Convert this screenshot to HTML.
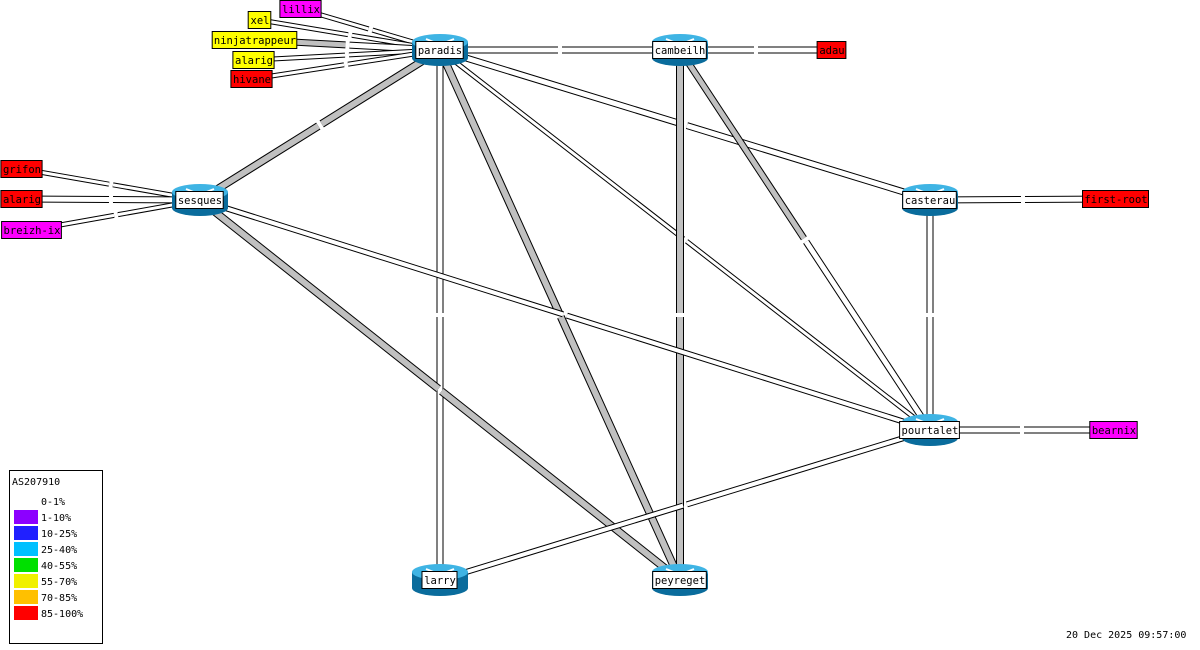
<!DOCTYPE html>
<html><head><meta charset="utf-8"><style>
html,body{margin:0;padding:0;background:#fff;width:1200px;height:650px;overflow:hidden}
svg text{font-family:"DejaVu Sans Mono","Liberation Mono",monospace;font-size:10.5px}
</style></head><body>
<svg id="s" width="1200" height="650" xmlns="http://www.w3.org/2000/svg">
<g id="links"></g>
<g id="nodes"></g>
<rect x="9.5" y="470.5" width="93" height="173" fill="#fff" stroke="#000"/>
<text x="12" y="485" style="font-size:10px">AS207910</text>
<text x="41" y="505" style="font-size:10px">0-1%</text>
<rect x="14" y="510" width="24" height="14" fill="#8c00ff"/><text x="41" y="521" style="font-size:10px">1-10%</text>
<rect x="14" y="526" width="24" height="14" fill="#2020ff"/><text x="41" y="537" style="font-size:10px">10-25%</text>
<rect x="14" y="542" width="24" height="14" fill="#00c0ff"/><text x="41" y="553" style="font-size:10px">25-40%</text>
<rect x="14" y="558" width="24" height="14" fill="#00e000"/><text x="41" y="569" style="font-size:10px">40-55%</text>
<rect x="14" y="574" width="24" height="14" fill="#f0f000"/><text x="41" y="585" style="font-size:10px">55-70%</text>
<rect x="14" y="590" width="24" height="14" fill="#ffc000"/><text x="41" y="601" style="font-size:10px">70-85%</text>
<rect x="14" y="606" width="24" height="14" fill="#ff0000"/><text x="41" y="617" style="font-size:10px">85-100%</text>
<text x="1066" y="638" style="font-size:10px">20 Dec 2025 09:57:00</text>
</svg>
<script>
var N={paradis:[440,50],cambeilh:[680,50],adau:[832,50],sesques:[200,200],casterau:[930,200],firstroot:[1116,199],
pourtalet:[930,430],bearnix:[1114,430],larry:[440,580],peyreget:[680,580],
grifon:[22,169],alarig2:[22,199],breizh:[32,230],lillix:[301,9],xel:[260,20],ninja:[255,40],alarig:[254,60],hivane:[252,79]};
var W='#fff',G='#c0c0c0';
var L=[["paradis","cambeilh",W,W,5],["cambeilh","adau",W,W,5],["paradis","sesques",G,G,6],["paradis","larry",W,W,5],
["paradis","peyreget",G,G,6],["paradis","casterau",W,W,5],["paradis","pourtalet",W,W,3],["cambeilh","peyreget",G,G,6],
["cambeilh","pourtalet",G,W,5],["casterau","firstroot",W,W,5],["casterau","pourtalet",W,W,5],["pourtalet","bearnix",W,W,5],
["sesques","pourtalet",W,W,4],["sesques","peyreget",G,G,6],["larry","pourtalet",W,W,4],
["grifon","sesques",W,W,3],["alarig2","sesques",W,W,5],["breizh","sesques",W,W,3],
["lillix","paradis",W,W,3],["xel","paradis",W,W,3],["ninja","paradis",G,W,5],["alarig","paradis",W,W,3],["hivane","paradis",W,W,3]];
var h='';
function seg(a,b,c,w){h+='<line x1="'+a[0]+'" y1="'+a[1]+'" x2="'+b[0]+'" y2="'+b[1]+'" stroke="#000" stroke-width="'+(w+2)+'"/>'+
'<line x1="'+a[0]+'" y1="'+a[1]+'" x2="'+b[0]+'" y2="'+b[1]+'" stroke="'+c+'" stroke-width="'+w+'"/>';}
L.forEach(function(l){var a=N[l[0]],b=N[l[1]];var m=[(a[0]+b[0])/2,(a[1]+b[1])/2];
var dx=b[0]-a[0],dy=b[1]-a[1],d=Math.hypot(dx,dy),ux=dx/d,uy=dy/d;
seg(a,[m[0]-ux*2,m[1]-uy*2],l[2],l[4]);seg([m[0]+ux*2,m[1]+uy*2],b,l[3],l[4]);});
document.getElementById('links').innerHTML=h;
var R=[["paradis",440,50],["cambeilh",680,50],["sesques",200,200],["casterau",930,200],["pourtalet",930,430],["larry",440,580],["peyreget",680,580]];
var BX=[["adau",832,50,"#f00"],["first-root",1116,199,"#f00"],["bearnix",1114,430,"#f0f"],["grifon",22,169,"#f00"],["alarig",22,199,"#f00"],
["breizh-ix",32,230,"#f0f"],["lillix",301,9,"#f0f"],["xel",260,20,"#ff0"],["ninjatrappeur",255,40,"#ff0"],["alarig",254,60,"#ff0"],["hivane",252,79,"#f00"]];
var g='';
R.forEach(function(r){var x=r[1],y=r[2];
g+='<path d="M'+(x-28)+' '+(y-8)+' L'+(x-28)+' '+(y+8)+' A28 8 0 0 0 '+(x+28)+' '+(y+8)+' L'+(x+28)+' '+(y-8)+' Z" fill="#0a6c9c"/>';
g+='<ellipse cx="'+x+'" cy="'+(y-8)+'" rx="28" ry="8" fill="#3fb4e4"/>';
g+='<path d="M'+(x-14)+' '+(y-11)+' L'+(x-4)+' '+(y-7)+' M'+(x+14)+' '+(y-11)+' L'+(x+4)+' '+(y-7)+'" stroke="#fff" stroke-width="2"/>';
var tw=r[0].length*6.2+4;g+='<rect x="'+(x-tw/2-0.5)+'" y="'+(y-8.5)+'" width="'+tw+'" height="17" fill="#fff" stroke="#000"/>';
g+='<text x="'+x+'" y="'+(y+4)+'" text-anchor="middle">'+r[0]+'</text>';});
BX.forEach(function(b){var tw=b[0].length*6.2+4;
g+='<rect x="'+(b[1]-tw/2-0.5)+'" y="'+(b[2]-8.5)+'" width="'+tw+'" height="17" fill="'+b[3]+'" stroke="#000"/>';
g+='<text x="'+b[1]+'" y="'+(b[2]+4)+'" text-anchor="middle">'+b[0]+'</text>';});
document.getElementById('nodes').innerHTML=g;
</script>
</body></html>
